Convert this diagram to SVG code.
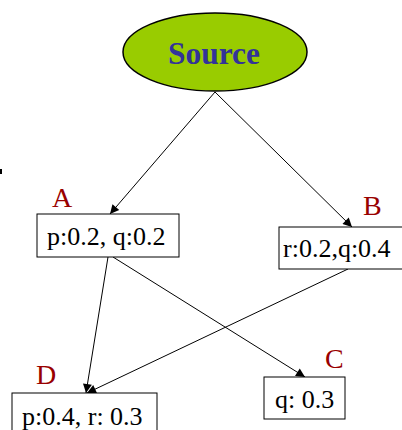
<svg xmlns="http://www.w3.org/2000/svg" width="402" height="430" viewBox="0 0 402 430">
<style>
.box{fill:#fff;stroke:#000;stroke-width:1}
.e{stroke:#000;stroke-width:1;fill:none;marker-end:url(#arr)}
</style>
<defs>
<marker id="arr" viewBox="0 0 10 10" refX="10" refY="5" markerWidth="11" markerHeight="9" markerUnits="userSpaceOnUse" orient="auto">
<path d="M0,0 L10,5 L0,10 z" fill="#000"/>
</marker>
</defs>
<rect width="402" height="430" fill="#fff"/>
<rect x="0" y="169" width="2" height="5" fill="#000"/>
<g id="connectors">
<line class="e" x1="215" y1="92" x2="110" y2="214"/>
<line class="e" x1="215" y1="92" x2="352" y2="227"/>
<line class="e" x1="108" y1="257" x2="86" y2="393"/>
<line class="e" x1="348" y1="269" x2="87" y2="393"/>
<line class="e" x1="113" y1="257" x2="305" y2="377"/>
</g>
<g font-family="Liberation Serif" font-size="26">
<g id="source">
<ellipse cx="215" cy="52" rx="92" ry="39" fill="#99cc00" stroke="#000" stroke-width="1.5"/>
<text x="214" y="64" text-anchor="middle" font-weight="bold" font-size="32" fill="#333399" textLength="92" lengthAdjust="spacingAndGlyphs">Source</text>
</g>
<g id="A">
<text x="52" y="207" font-size="28" fill="#990000">A</text>
<rect class="box" x="37" y="214" width="142" height="43"/>
<text x="47" y="245">p:0.2, q:0.2</text>
</g>
<g id="B">
<text x="363" y="215" font-size="28" fill="#990000">B</text>
<rect class="box" x="279" y="227" width="130" height="42"/>
<text x="283" y="257">r:0.2,q:0.4</text>
</g>
<g id="C">
<text x="325" y="368" font-size="28" fill="#990000">C</text>
<rect class="box" x="264" y="377" width="81" height="42"/>
<text x="275" y="408">q: 0.3</text>
</g>
<g id="D">
<text x="36" y="384" font-size="28" fill="#990000">D</text>
<rect class="box" x="12" y="393" width="145" height="50"/>
<text x="22" y="425">p:0.4, r: 0.3</text>
</g>
</g>
</svg>
